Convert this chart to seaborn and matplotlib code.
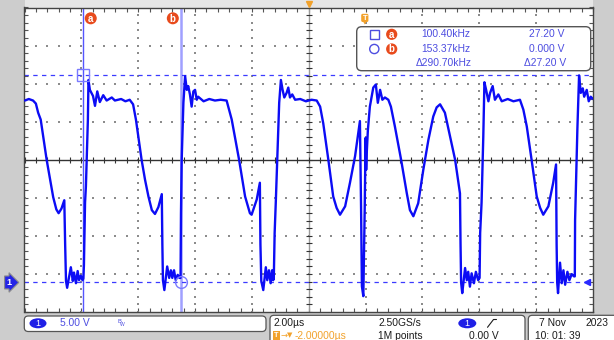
import numpy as np
import pandas as pd
import matplotlib
matplotlib.use("Agg")
import matplotlib.pyplot as plt
import seaborn as sns
from matplotlib.patches import FancyBboxPatch, Rectangle, Ellipse, Circle, Polygon
from matplotlib import transforms as mtrans

# ---------------- data (time in µs relative to screen centre, volts) ----------------
time_us = [
    -9.98, -9.85, -9.70, -9.60, -9.52, -9.43, -9.22, -8.99, -8.88, -8.80, -8.70, -8.60,
    -8.57, -8.54, -8.50, -8.42, -8.37, -8.30, -8.26, -8.19, -8.13, -8.08, -8.02, -7.96, -7.93,
    -7.91, -7.87, -7.84, -7.77, -7.75, -7.70, -7.59, -7.52, -7.44, -7.35, -7.23, -7.11, -6.93, -6.82, -6.60, -6.45, -6.30,
    -6.18, -6.08, -5.88, -5.76, -5.64, -5.52, -5.41, -5.29, -5.17,
    -5.15, -5.13, -5.08, -4.98, -4.91, -4.85, -4.80, -4.74, -4.68, -4.61, -4.55, -4.51,
    -4.495, -4.47, -4.41, -4.35, -4.29, -4.24, -4.18, -4.12, -4.06, -4.00, -3.94, -3.89, -3.70, -3.50, -3.30, -3.10, -2.89,
    -2.71, -2.45, -2.24, -2.07, -2.01, -1.83, -1.72,
    -1.70, -1.67, -1.60, -1.51, -1.46, -1.40, -1.34, -1.29, -1.25, -1.23,
    -1.20, -1.16, -1.11, -1.04, -0.98, -0.92, -0.86, -0.78, -0.72, -0.66, -0.58, -0.48, -0.30, -0.10, 0.10, 0.28,
    0.40, 0.51, 0.69, 0.86, 0.98, 1.10, 1.28, 1.45, 1.63, 1.80,
    1.84, 1.87, 1.92, 1.97, 2.00, 2.02, 2.04, 2.08, 2.15, 2.27, 2.36, 2.43, 2.51, 2.59, 2.68, 2.80, 2.89,
    3.03, 3.25, 3.45, 3.56, 3.68, 3.85, 4.03, 4.21, 4.38, 4.50, 4.62, 4.79, 4.97, 5.15, 5.32,
    5.34, 5.36, 5.40, 5.50, 5.56, 5.61, 5.67, 5.73, 5.81, 5.88, 5.96, 6.01,
    6.03, 6.08, 6.14, 6.18, 6.24, 6.32, 6.38, 6.47, 6.55, 6.67, 6.79, 7.00, 7.20, 7.43,
    7.55, 7.67, 7.84, 8.02, 8.14, 8.25, 8.43, 8.60, 8.70,
    8.72, 8.74, 8.77, 8.84, 8.90, 8.96, 9.02, 9.10, 9.17, 9.25, 9.33, 9.36,
    9.37, 9.40, 9.45, 9.51, 9.57, 9.64, 9.69, 9.78, 9.85, 9.92, 10.0,
]
volts = [
    23.9, 24.1, 23.9, 23.5, 22.3, 21.4, 16.1, 11.2, 9.6, 9.1, 9.7, 10.8,
    5.0, 0.2, -0.7, 1.0, 2.0, 0.2, 1.3, -0.1, 1.5, 0.3, 0.9, 0.3, 0.5,
    2.2, 10.5, 12.6, 21.4, 26.6, 25.3, 24.5, 23.2, 25.1, 23.7, 24.6, 23.9, 24.3, 23.9, 24.1, 23.8, 24.0,
    23.4, 21.4, 16.1, 13.5, 11.3, 9.5, 9.0, 9.9, 11.6,
    5.0, 0.3, -1.0, 2.1, 0.6, 1.6, 0.6, 1.6, 0.3, 1.0, 0.6, 0.6,
    9.1, 16.1, 23.6, 27.1, 25.3, 25.8, 24.7, 23.1, 25.1, 25.3, 24.0, 24.4, 23.8, 24.1, 23.9, 24.0, 23.9,
    21.4, 16.1, 11.3, 9.1, 8.9, 10.9, 13.1,
    5.0, 0.2, -1.0, 2.0, 0.3, 1.6, -0.1, 1.6, 0.3, 0.5,
    6.5, 10.5, 16.1, 23.6, 26.6, 25.3, 24.3, 24.9, 25.6, 24.3, 24.7, 24.0, 24.1, 23.8, 24.0, 23.9,
    23.1, 20.9, 16.1, 11.3, 9.8, 8.9, 10.0, 13.1, 16.6, 21.2,
    10.0, -0.5, -1.8, 10.0, 19.0, 14.8, 17.0, 20.0, 23.1, 25.6, 26.0, 23.6, 25.3, 24.0, 24.3, 24.0, 23.1,
    20.5, 16.1, 11.7, 9.5, 8.7, 10.4, 14.8, 18.75, 21.8, 23.0, 23.4, 22.3, 19.2, 16.1, 11.7,
    5.0, 0.0, -1.4, 1.9, 0.3, 1.4, -0.55, 1.2, -0.1, 1.4, 0.3, 0.6,
    6.5, 10.5, 19.1, 26.3, 25.3, 23.8, 24.9, 25.8, 24.0, 24.7, 23.8, 24.1, 23.8, 24.0,
    22.7, 20.5, 16.1, 11.3, 9.8, 8.9, 10.0, 13.1, 15.5,
    5.0, 0.0, -1.4, 2.6, -0.1, 1.6, -0.3, 1.4, 0.3, 1.1, 0.8, 0.8,
    8.2, 12.6, 20.1, 27.2, 24.9, 25.5, 24.4, 25.3, 23.8, 24.4, 24.1,
]
assert len(time_us) == len(volts)

cursor_time_us = [-7.93, -4.49]          # cursor a, cursor b
cursor_level_v = [27.20, 0.0]            # cursor a, cursor b
readout_freq = ["100.40kHz", "153.37kHz", "\u0394290.70kHz"]
readout_volt = ["27.20 V", "0.000 V", "\u039427.20 V"]
ch1_scale = "5.00 V"
timebase = "2.00\u00b5s"
sample_rate = "2.50GS/s"
trig_delay = "-2.00000\u00b5s"
record_len = "1M points"
trig_level = "0.00 V"
date_day, date_year = "7 Nov", "2023"
clock = "10: 01: 39"

# ---------------- screen setup ----------------
sns.set_style("white")
FONT = ["Liberation Sans", "DejaVu Sans"]
plt.rcParams["font.family"] = FONT

W, H = 614, 340
fig = plt.figure(figsize=(6.14, 3.4), dpi=100)
fig.patch.set_facecolor("#cdcdcd")


def fr(x0, y0, x1, y1):
    return [x0 / W, 1 - y1 / H, (x1 - x0) / W, (y1 - y0) / H]


bg = fig.add_axes([0, 0, 1, 1], zorder=0)
bg.set_xlim(0, W); bg.set_ylim(H, 0); bg.axis("off")
bg.add_patch(Rectangle((24.5, 0), 568.5, 8, fc="#e6e6e6", ec="none"))

T_DIV, V_DIV = 2.0, 5.0
YMIN = -3.88
xlim = (-5 * T_DIV, 5 * T_DIV)
ylim = (YMIN, YMIN + 8 * V_DIV)
vc = YMIN + 4 * V_DIV

ax = fig.add_axes(fr(24.5, 7.5, 593, 312), zorder=1)
ax.set_facecolor("white")
ax.set_xlim(*xlim); ax.set_ylim(*ylim)

# dotted graticule
gx = [xlim[0] + k * T_DIV for k in range(1, 10) if k != 5]
gy = [YMIN + j * V_DIV for j in range(1, 8) if j != 4]
minor_t = np.arange(xlim[0], xlim[1] + 1e-6, T_DIV / 5)
minor_v = np.arange(YMIN, ylim[1] + 1e-6, V_DIV / 5)
px_, py_ = [], []
for x in gx:
    px_ += [x] * len(minor_v); py_ += list(minor_v)
for y in gy:
    px_ += list(minor_t); py_ += [y] * len(minor_t)
ax.scatter(px_, py_, s=1.2, marker="s", color="#8c8c8c", linewidths=0, zorder=1)

# centre lines with ticks
ax.axhline(vc, color="#333333", lw=1.0, zorder=1.5)
ax.axvline(0, color="#9a9a9a", lw=1.0, zorder=1.5)
ax.plot(minor_t, [vc] * len(minor_t), ls="none", marker="|", ms=4, mew=0.8, color="#333333", zorder=1.6)
ax.plot([0] * len(minor_v), minor_v, ls="none", marker="_", ms=4, mew=0.8, color="#333333", zorder=1.6)

ax.xaxis.set_major_locator(matplotlib.ticker.FixedLocator(minor_t))
ax.yaxis.set_major_locator(matplotlib.ticker.FixedLocator(minor_v))
ax.tick_params(which="both", direction="in", length=3, width=0.8, color="#555555",
               top=True, right=True, bottom=True, left=True,
               labelbottom=False, labelleft=False)
for s in ax.spines.values():
    s.set_color("#444444"); s.set_linewidth(1.0)

# cursors
ax.axvline(cursor_time_us[0], color="#5555ff", lw=1.0, zorder=2)
ax.axvline(cursor_time_us[1], color="#a0a0ff", lw=1.8, zorder=2)
for lv in cursor_level_v:
    ax.axhline(lv, color="#3b3bff", lw=0.9, ls=(0, (3.5, 3.5)), zorder=2)

# waveform
df = pd.DataFrame({"t": time_us, "v": volts})
sns.lineplot(data=df, x="t", y="v", sort=False, estimator=None, color="#0c0cf5",
             lw=1.7, ax=ax, legend=False, zorder=3)
ax.set_xlabel(""); ax.set_ylabel("")

ax.plot([cursor_time_us[0]], [cursor_level_v[0]], marker="s", ms=8, mfc="none",
        mec="#7a7aff", mew=1.0, zorder=4)
ax.plot([cursor_time_us[1]], [cursor_level_v[1]], marker="o", ms=8.5, mfc="none",
        mec="#7a7aff", mew=1.0, zorder=4)

# ground marker (channel 1 reference)
blend = mtrans.blended_transform_factory(ax.transAxes, ax.transData)
ax.text(-0.027, 0.0, "1", transform=blend, ha="center", va="center", color="white",
        fontsize=6.5, fontweight="bold", clip_on=False, zorder=5,
        bbox=dict(boxstyle="rarrow,pad=0.22", fc="#2424e6", ec="#8a8a8a", lw=0.8))
ax.plot([0.99], [0.0], transform=blend, marker="<", ms=4.5, color="#2a2aff", clip_on=False, zorder=5)

# ---------------- overlay (pixel coordinates) ----------------
ov = fig.add_axes([0, 0, 1, 1], zorder=3)
ov.set_xlim(0, W); ov.set_ylim(H, 0); ov.axis("off"); ov.patch.set_visible(False)


def to_px(t, v):
    dx, dy = ax.transData.transform((t, v))
    return dx, H - dy


ORANGE_RED = "#e84a1c"
TRIG = "#f2a22c"
BLUE_TXT = "#4d4de0"
DARK = "#1c1c1c"


def badge(x, y, letter, r=6.0):
    ov.add_patch(Circle((x, y), r, fc=ORANGE_RED, ec="none", zorder=6))
    ov.text(x, y + 0.3, letter, ha="center", va="center", color="white", fontsize=7,
            fontweight="bold", zorder=7)


ax_px, top_px = to_px(cursor_time_us[0], ylim[1])
bx_px, _ = to_px(cursor_time_us[1], ylim[1])
badge(ax_px + 7.4, 18.3, "a")
badge(bx_px - 8.3, 18.3, "b")

# trigger markers
tx, _ = to_px(-5 * 0 + 1.98, ylim[1])
ov.plot([308.75], [3.5], marker="v", ms=5, color=TRIG, zorder=6)
ov.add_patch(FancyBboxPatch((361.2, 13.8), 7.2, 8.2, boxstyle="round,pad=0,rounding_size=1.5",
                            fc=TRIG, ec="none", zorder=6))
ov.add_patch(Polygon([(363.3, 22), (366.3, 22), (364.8, 24.5)], fc=TRIG, ec="none", zorder=6))
ov.text(364.8, 18.2, "T", ha="center", va="center", color="white", fontsize=5.5,
        fontweight="bold", zorder=7)

# readout box
ov.add_patch(FancyBboxPatch((356.7, 26.7), 234, 44, boxstyle="round,pad=0,rounding_size=5",
                            fc="white", ec="#555555", lw=1.0, zorder=5))
rows_y = [34.3, 49.0, 62.7]
ov.add_patch(Rectangle((370, 30), 8.6, 8.6, fc="none", ec=BLUE_TXT, lw=1.0, zorder=6))
ov.add_patch(Circle((374.3, 49.0), 4.6, fc="none", ec=BLUE_TXT, lw=1.0, zorder=6))
badge(391.7, rows_y[0], "a", r=5.6)
badge(391.7, rows_y[1], "b", r=5.6)
freq_x = [421.7, 421.7, 416.0]
volt_x = [529.0, 529.0, 524.3]
for i in range(3):
    ov.text(freq_x[i], rows_y[i], readout_freq[i], ha="left", va="center", color=BLUE_TXT,
            fontsize=7.4, zorder=7)
    ov.text(volt_x[i], rows_y[i], readout_volt[i], ha="left", va="center", color=BLUE_TXT,
            fontsize=7.4, zorder=7)

# ---------------- status bar ----------------
bg.add_patch(FancyBboxPatch((24.3, 316), 241.7, 15.5, boxstyle="round,pad=0,rounding_size=4",
                            fc="white", ec="#555555", lw=0.9))
bg.add_patch(FancyBboxPatch((270, 315.3), 255, 30, boxstyle="round,pad=0,rounding_size=4",
                            fc="white", ec="#555555", lw=0.9))
bg.add_patch(FancyBboxPatch((528.3, 315.3), 90, 30, boxstyle="round,pad=0,rounding_size=4",
                            fc="white", ec="#555555", lw=0.9))

r1, r2 = 323.3, 335.6
fs = 7.4
ov.add_patch(Ellipse((38, r1), 17, 10, fc="#1f1fe6", ec="none", zorder=6))
ov.text(38, r1 + 0.2, "1", ha="center", va="center", color="white", fontsize=6.5, zorder=7)
ov.text(59.5, r1, ch1_scale, ha="left", va="center", color=BLUE_TXT, fontsize=fs, zorder=7)
ov.text(117.5, r1 - 1.5, "B", ha="left", va="center", color=BLUE_TXT, fontsize=4.2, zorder=7)
ov.text(120.0, r1 + 1.5, "W", ha="left", va="center", color=BLUE_TXT, fontsize=3.6, zorder=7)

ov.text(273.3, r1, timebase, ha="left", va="center", color=DARK, fontsize=fs, zorder=7)
ov.text(378.3, r1, sample_rate, ha="left", va="center", color=DARK, fontsize=fs, zorder=7)
ov.add_patch(Ellipse((467.3, r1), 18, 10, fc="#1f1fe6", ec="none", zorder=6))
ov.text(467.3, r1 + 0.2, "1", ha="center", va="center", color="white", fontsize=6.5, zorder=7)
ov.plot([487.5, 493.5, 496.5], [327.3, 319.5, 319.5], color=DARK, lw=0.8, zorder=7)

ov.add_patch(Rectangle((273.3, 331.2), 6.7, 8.6, fc=TRIG, ec="none", zorder=6))
ov.text(276.6, r2, "T", ha="center", va="center", color="white", fontsize=5.2,
        fontweight="bold", zorder=7)
ov.text(280.5, r2, "\u2192", ha="left", va="center", color=TRIG, fontsize=6,
        family=["DejaVu Sans"], zorder=7)
ov.text(287.0, r2, "\u25bc", ha="left", va="center", color=TRIG, fontsize=5,
        family=["DejaVu Sans"], zorder=7)
ov.text(294.3, r2, trig_delay, ha="left", va="center", color=TRIG, fontsize=fs, zorder=7)
ov.text(378.3, r2, record_len, ha="left", va="center", color=DARK, fontsize=fs, zorder=7)
ov.text(469.3, r2, trig_level, ha="left", va="center", color=DARK, fontsize=fs, zorder=7)

ov.text(539.3, r1, date_day, ha="left", va="center", color=DARK, fontsize=fs, zorder=7)
ov.text(608.0, r1, date_year, ha="right", va="center", color=DARK, fontsize=fs, zorder=7)
ov.text(535.0, r2, clock, ha="left", va="center", color=DARK, fontsize=fs, zorder=7)

fig.savefig("out.png", dpi=100, facecolor=fig.get_facecolor())
